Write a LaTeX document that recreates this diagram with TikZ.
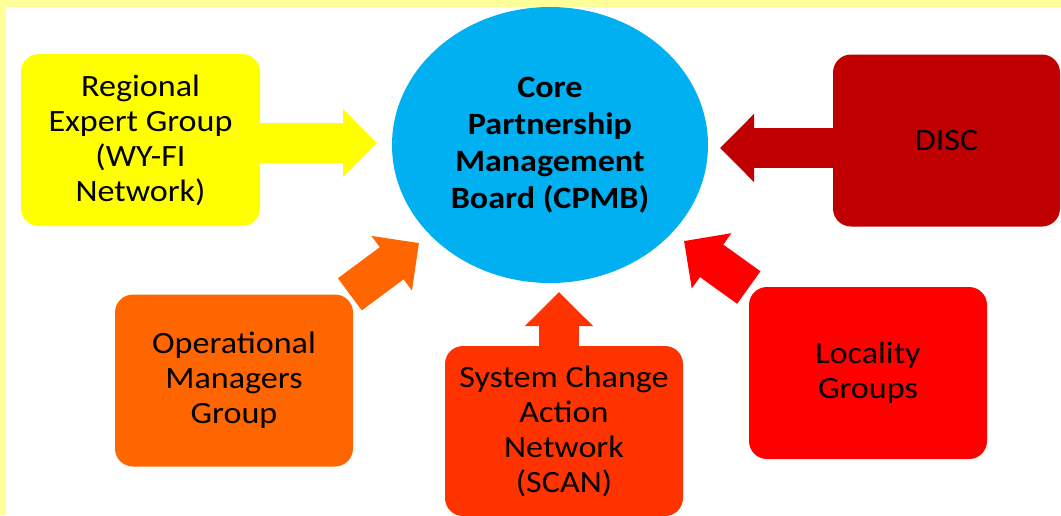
\documentclass[tikz,border=0pt]{standalone}
\usepackage{fontspec}
\setmainfont{Carlito}[FakeStretch=1.1]
\usetikzlibrary{arrows.meta,shapes.geometric}

\definecolor{frameYellow}{HTML}{FFFF99}
\definecolor{coreBlue}{HTML}{00B0F0}
\definecolor{regYellow}{HTML}{FFFF00}
\definecolor{discRed}{HTML}{C00000}
\definecolor{opsOrange}{HTML}{FF6600}
\definecolor{scanRed}{HTML}{FF3300}
\definecolor{locRed}{HTML}{FF0000}

\pgfdeclarelayer{background}
\pgfsetlayers{background,main}

\begin{document}
\begin{tikzpicture}
[x=1pt,y=-1pt,
  boxDecorate/.style={shape=rectangle,rounded corners=18pt,inner sep=0pt,
    minimum width=238pt,minimum height=172pt,align=center,
    font=\fontsize{31}{35}\selectfont},
  arrowDecorate/.style={line width=40pt,-{Triangle[length=34pt,width=66pt]}}]
\useasboundingbox (0,0) rectangle (1061,515);
%% core
\node (core) at (550,145) [shape=ellipse,fill=coreBlue,inner sep=0pt,
  minimum width=316pt,minimum height=276pt,align=center,
  font=\fontsize{31}{37}\selectfont\bfseries]
  {Core\\Partnership\\Management\\Board (CPMB)};
%% groups
\node (regional) at (140.5,140) [boxDecorate,fill=regYellow,minimum width=239pt]
  {Regional\\Expert Group\\(WY-FI\\Network)};
\node (disc) at (946.5,140.5) [boxDecorate,fill=discRed,minimum width=227pt] {DISC};
\node (ops) at (234,380.5) [boxDecorate,fill=opsOrange] {Operational\\Managers\\Group};
\node (scan) at (564,431) [boxDecorate,fill=scanRed,minimum height=170pt]
  {System Change\\Action\\Network\\(SCAN)};
\node (loc) at (868,373) [boxDecorate,fill=locRed] {Locality\\Groups};
%% arrow tips
\coordinate (regTip) at (377,143);
\coordinate (discTip) at (720,148);
\coordinate (opsTip) at (419,243);
\coordinate (scanTip) at (559,292);
\coordinate (locTip) at (684,241);
\begin{pgfonlayer}{background}
  \fill[frameYellow] (0,0) rectangle (1061,515);
  \fill[white] (6,7) rectangle (1061,515);
  \draw[arrowDecorate,regYellow] (regional.east |- regTip) -- (regTip);
  \draw[arrowDecorate,discRed] (disc.west |- discTip) -- (discTip);
  \draw[arrowDecorate,opsOrange] (ops) -- (opsTip);
  \draw[arrowDecorate,scanRed] (scan.north -| scanTip) -- (scanTip);
  \draw[arrowDecorate,locRed] (loc) -- (locTip);
\end{pgfonlayer}
\end{tikzpicture}
\end{document}
